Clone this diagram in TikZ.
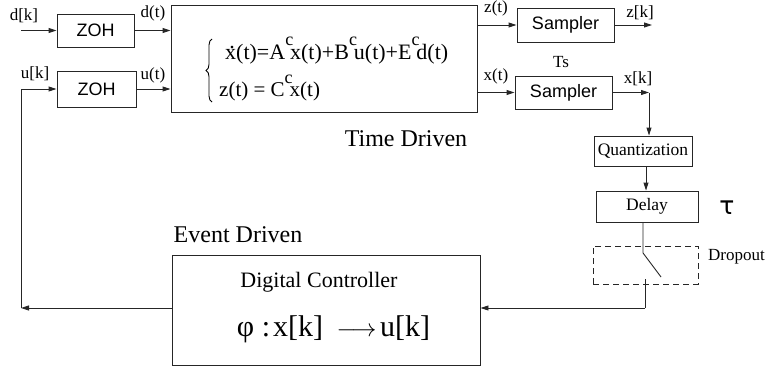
\documentclass[tikz,border=0pt]{standalone}
\usepackage{fontspec}
\setmainfont{Liberation Serif}
\newfontfamily\blockfont{Liberation Sans}
\newfontfamily\symfont{DejaVu Sans}
\usetikzlibrary{arrows.meta,calc,decorations.pathreplacing}

\newcommand{\fsz}[1]{\fontsize{#1}{#1}\selectfont}
% raised superscript "c" that leans over the next letter
\newcommand{\supc}{\raisebox{0.6em}{\fsz{18}c}\kern-0.14em}
% x with a dot above
\newcommand{\xdot}{\makebox[0pt][l]{\kern0.19em\raisebox{0.5em}{.}}x}

\begin{document}
\begin{tikzpicture}[x=1pt,y=-1pt,
  >={Triangle[length=8pt,width=5pt]},
  blk/.style={draw=black!85, line width=0.9pt, inner sep=0pt, anchor=center},
  lbl/.style={inner sep=0pt, font=\fsz{17}},
  wire/.style={draw=black!85, line width=0.9pt},
]
\useasboundingbox (0,0) rectangle (770,367);

% ---- continuous-time part ----
\node[blk, minimum width=77pt, minimum height=33pt, font=\blockfont\fsz{18}] (zoh1) at (95.5,30.5) {ZOH};
\node[blk, minimum width=79pt, minimum height=36pt, font=\blockfont\fsz{18}] (zoh2) at (96.5,89) {ZOH};
\node[blk, minimum width=306pt, minimum height=107pt] (plant) at (324,58.5) {};
\node[blk, minimum width=97pt, minimum height=34pt, font=\blockfont\fsz{18}] (samp1) at (565.5,25) {Sampler};
\node[blk, minimum width=97pt, minimum height=33pt, font=\blockfont\fsz{18}] (samp2) at (563.5,92.5) {Sampler};

% state-space equations inside the plant block
\draw[line width=0.9pt, decorate, decoration={brace, amplitude=6pt}] (212,102) -- (212,39);
\node[inner sep=0pt, anchor=base west, font=\fsz{22}] (eq1) at (225,59)
  {\xdot(t)=A\supc x(t)+B\supc u(t)+E\supc d(t)};
\node[inner sep=0pt, anchor=base west, font=\fsz{21}] (eq2) at (219,96)
  {z(t) = C\supc x(t)};

% ---- sampled-data chain ----
\node[blk, minimum width=98pt, minimum height=30pt, font=\fsz{17.5}] (quant) at (643,151) {Quantization};
\node[blk, minimum width=102pt, minimum height=31pt, font=\fsz{17.5}] (delay) at (647,206.5) {Delay};
\node[draw=black!85, line width=0.9pt, dash pattern=on 6pt off 4pt, inner sep=0pt,
      minimum width=105pt, minimum height=38pt] (drop) at (645.5,265) {};
\node[blk, minimum width=308pt, minimum height=110pt] (ctrl) at (326,310) {};
\node[inner sep=0pt, font=\fsz{22}] (ctrltitle) at (319,282) {Digital Controller};
\node[inner sep=0pt, font=\fsz{30}] (law) at (333.5,329)
  {φ :\kern3pt x[k]\kern14pt\makebox[39pt]{$\longrightarrow$}\kern4pt u[k]};

% ---- labels ----
\node[lbl] (ldk) at (24,16) {d[k]};
\node[lbl] (ldt) at (153,13) {d(t)};
\node[lbl] (luk) at (35,74) {u[k]};
\node[lbl] (lut) at (153,75) {u(t)};
\node[lbl] (lzt) at (496,8) {z(t)};
\node[lbl] (lzk) at (640,13) {z[k]};
\node[lbl] (lts) at (561,62) {Ts};
\node[lbl] (lxt) at (496,76) {x(t)};
\node[lbl] (lxk) at (638,79) {x[k]};
\node[inner sep=0pt, font=\fsz{24}] (tdriven) at (406,139) {Time Driven};
\node[inner sep=0pt, font=\fsz{24}] (edriven) at (238,235) {Event Driven};
\node[inner sep=0pt, font=\symfont\fsz{25}] (tau) at (727,208) {τ};
\node[lbl, anchor=west] (ldrop) at (708,257) {Dropout};

% ---- connectors ----
\coordinate (dk) at (21,30.5);
\draw[wire,->] (dk) -- (zoh1.west);
\draw[wire,->] (zoh1.east) -- (zoh1.east -| plant.west);
\draw[wire,->] (zoh2.east) -- (zoh2.east -| plant.west);
\draw[wire,->] (plant.east |- samp1.west) -- (samp1.west);
\coordinate (zk) at (652,25);
\draw[wire,->] (samp1.east) -- (zk);
\draw[wire,->] (plant.east |- samp2.west) -- (samp2.west);
\coordinate (xk) at (649,92.5);
\draw[wire,->] (samp2.east) -- (xk);
\draw[wire,->] (xk) -- (xk |- quant.north);
\draw[wire,->] ([xshift=3pt]quant.south) -- ([xshift=3pt]quant.south |- delay.north);

% dropout switch
\coordinate (sw1) at (643,253);
\coordinate (sw2) at (661,277);
\coordinate (sw3) at (645,279);
\coordinate (ret) at (645,308);
\draw[wire] (sw1 |- delay.south) -- (sw1) -- (sw2);
\draw[wire] (sw3) -- (ret);
\draw[wire,->] (ret) -- (ret -| ctrl.east);

% control signal fed back to the hold
\coordinate (fb) at (21,308);
\draw[wire,->] (ctrl.west |- fb) -- (fb);
\draw[wire,->] (fb) |- (zoh2.west);
\end{tikzpicture}
\end{document}
